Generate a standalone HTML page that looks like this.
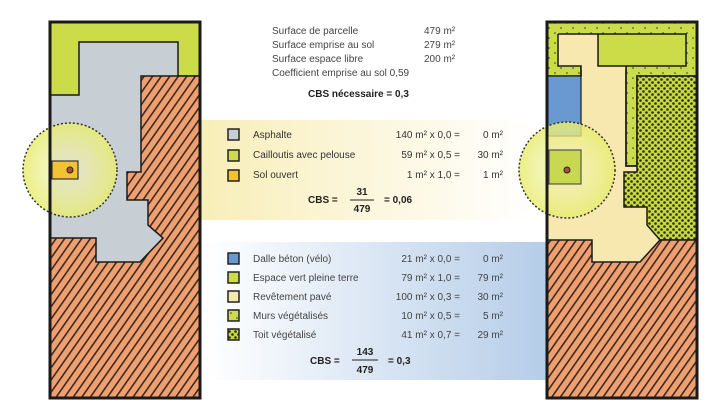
<!DOCTYPE html>
<html><head><meta charset="utf-8"><style>
body{margin:0;background:#fff;}
svg{display:block;font-family:"Liberation Sans",sans-serif;}
</style></head><body>
<svg width="722" height="414" viewBox="0 0 722 414" xmlns="http://www.w3.org/2000/svg">
<defs>
<pattern id="hatch" width="7" height="7" patternUnits="userSpaceOnUse" patternTransform="rotate(35)">
<rect width="7" height="7" fill="#f0a070"/><rect width="1.6" height="7" fill="#3a2a20"/></pattern>
<pattern id="dots" width="6" height="6" patternUnits="userSpaceOnUse">
<rect width="6" height="6" fill="#c8d840"/><circle cx="1.5" cy="1.5" r="1.3" fill="#2a3010"/><circle cx="4.5" cy="4.5" r="1.3" fill="#2a3010"/></pattern>
<pattern id="sdots" width="12" height="10" patternUnits="userSpaceOnUse">
<rect width="12" height="10" fill="#cadc48"/><circle cx="3" cy="3" r="0.8" fill="#333"/><circle cx="9" cy="8" r="0.8" fill="#333"/></pattern>
<radialGradient id="circ"><stop offset="0" stop-color="#f4f4c8" stop-opacity="0.6"/><stop offset="1" stop-color="#e8ec70" stop-opacity="0.85"/></radialGradient>
<linearGradient id="yel" x1="0" x2="1"><stop offset="0" stop-color="#f8eeb8"/><stop offset="1" stop-color="#ffffff"/></linearGradient>
<linearGradient id="blu" x1="0" x2="1"><stop offset="0" stop-color="#ffffff"/><stop offset="1" stop-color="#b5cde8"/></linearGradient>
</defs>
<rect x="200" y="120" width="335" height="100" fill="url(#yel)"/>
<rect x="205" y="242" width="342" height="138" fill="url(#blu)"/>

<rect x="50" y="22" width="150" height="376" fill="#c8cfd4"/>
<polygon points="50,22 200,22 200,76 178,76 178,42 79,42 79,95 50,95" fill="#cbdc48" stroke="#1a1a1a" stroke-width="1.5"/>
<polygon points="141,76 200,76 200,398 50,398 50,238 96,238 96,262 140,262 163,238 148,225 148,200 127,200 127,172 141,172" fill="url(#hatch)" stroke="#1a1a1a" stroke-width="1.5"/>
<circle cx="70" cy="170" r="47" fill="url(#circ)" stroke="#333" stroke-width="1.5" stroke-dasharray="2,2"/>
<rect x="52" y="161" width="26" height="18" fill="#f2c230" stroke="#333" stroke-width="1.2"/>
<circle cx="70" cy="170" r="3" fill="#b05030" stroke="#222"/>
<rect x="50" y="22" width="150" height="376" fill="none" stroke="#1a1a1a" stroke-width="3"/>

<rect x="547" y="22" width="150" height="376" fill="#f7e8b0"/>
<polygon points="547,22 697,22 697,76 637,76 637,166 626,166 626,66 581,66 581,76 547,76" fill="url(#sdots)" stroke="#1a1a1a" stroke-width="1.5"/>
<rect x="558" y="34" width="40" height="32" fill="#f7e8b0"/>
<rect x="581" y="60" width="45" height="10" fill="#f7e8b0"/>
<path d="M558,34 H598 M558,34 V66 H581 V76" fill="none" stroke="#1a1a1a" stroke-width="1.5"/>
<path d="M626,66 V166 H637" fill="none" stroke="#1a1a1a" stroke-width="1.5"/>
<rect x="598" y="34" width="88" height="32" fill="#cbdc48" stroke="#1a1a1a" stroke-width="1.5"/>
<rect x="547" y="76" width="34" height="60" fill="#6a98d0" stroke="#1a1a1a" stroke-width="1.2"/>
<polygon points="637,76 697,76 697,240 660,240 647,225 647,207 624,207 624,172 637,172" fill="url(#dots)" stroke="#1a1a1a" stroke-width="1.5"/>
<polygon points="547,240 592,240 592,262 640,262 660,240 697,240 697,398 547,398" fill="url(#hatch)" stroke="#1a1a1a" stroke-width="1.5"/>
<circle cx="567" cy="170" r="48" fill="url(#circ)" stroke="#333" stroke-width="1.5" stroke-dasharray="2,2"/>
<rect x="549" y="150" width="32" height="34" fill="#c8d850" stroke="#555" stroke-width="1.2"/>
<circle cx="567" cy="170" r="3" fill="#b05030" stroke="#222"/>
<rect x="547" y="22" width="150" height="376" fill="none" stroke="#1a1a1a" stroke-width="3"/>

<g font-size="10" fill="#444">
<text x="272" y="34">Surface de parcelle</text><text x="424" y="34">479 m²</text>
<text x="272" y="48">Surface emprise au sol</text><text x="424" y="48">279 m²</text>
<text x="272" y="62">Surface espace libre</text><text x="424" y="62">200 m²</text>
<text x="272" y="76">Coefficient emprise au sol 0,59</text>
</g>
<text x="308" y="97" font-size="10" font-weight="bold" fill="#222">CBS nécessaire = 0,3</text>

<g stroke="#222" stroke-width="1.5">
<rect x="228" y="129" width="11" height="11" fill="#c8cfd4"/>
<rect x="228" y="150" width="11" height="11" fill="#cbdc48"/>
<rect x="228" y="170" width="11" height="11" fill="#f2c230"/>
</g>
<g font-size="10" fill="#333">
<text x="253" y="138">Asphalte</text>
<text x="253" y="158">Cailloutis avec pelouse</text>
<text x="253" y="178">Sol ouvert</text>
<g text-anchor="end">
<text x="460" y="138">140 m² x 0,0 =</text><text x="503" y="138">0 m²</text>
<text x="460" y="158">59 m² x 0,5 =</text><text x="503" y="158">30 m²</text>
<text x="460" y="178">1 m² x 1,0 =</text><text x="503" y="178">1 m²</text>
</g></g>
<g font-size="10" font-weight="bold" fill="#222">
<text x="308" y="203">CBS =</text>
<text x="362" y="195" text-anchor="middle">31</text>
<line x1="350" y1="200" x2="374" y2="200" stroke="#222" stroke-width="1"/>
<text x="362" y="212" text-anchor="middle">479</text>
<text x="384" y="203">= 0,06</text>
</g>

<g stroke="#222" stroke-width="1.5">
<rect x="228" y="253" width="11" height="11" fill="#6a98d0"/>
<rect x="228" y="272" width="11" height="11" fill="#cbdc48"/>
<rect x="228" y="291" width="11" height="11" fill="#f7e8b0"/>
<rect x="228" y="310" width="11" height="11" fill="url(#sdots)"/>
<rect x="228" y="329" width="11" height="11" fill="url(#dots)"/>
</g>
<g font-size="10" fill="#444">
<text x="253" y="262">Dalle béton (vélo)</text>
<text x="253" y="281">Espace vert pleine terre</text>
<text x="253" y="300">Revêtement pavé</text>
<text x="253" y="319">Murs végétalisés</text>
<text x="253" y="338">Toit végétalisé</text>
<g text-anchor="end">
<text x="460" y="262">21 m² x 0,0 =</text><text x="503" y="262">0 m²</text>
<text x="460" y="281">79 m² x 1,0 =</text><text x="503" y="281">79 m²</text>
<text x="460" y="300">100 m² x 0,3 =</text><text x="503" y="300">30 m²</text>
<text x="460" y="319">10 m² x 0,5 =</text><text x="503" y="319">5 m²</text>
<text x="460" y="338">41 m² x 0,7 =</text><text x="503" y="338">29 m²</text>
</g></g>
<g font-size="10" font-weight="bold" fill="#222">
<text x="310" y="364">CBS =</text>
<text x="365" y="355" text-anchor="middle">143</text>
<line x1="352" y1="360" x2="378" y2="360" stroke="#222" stroke-width="1"/>
<text x="365" y="373" text-anchor="middle">479</text>
<text x="388" y="364">= 0,3</text>
</g>
</svg>
</body></html>
